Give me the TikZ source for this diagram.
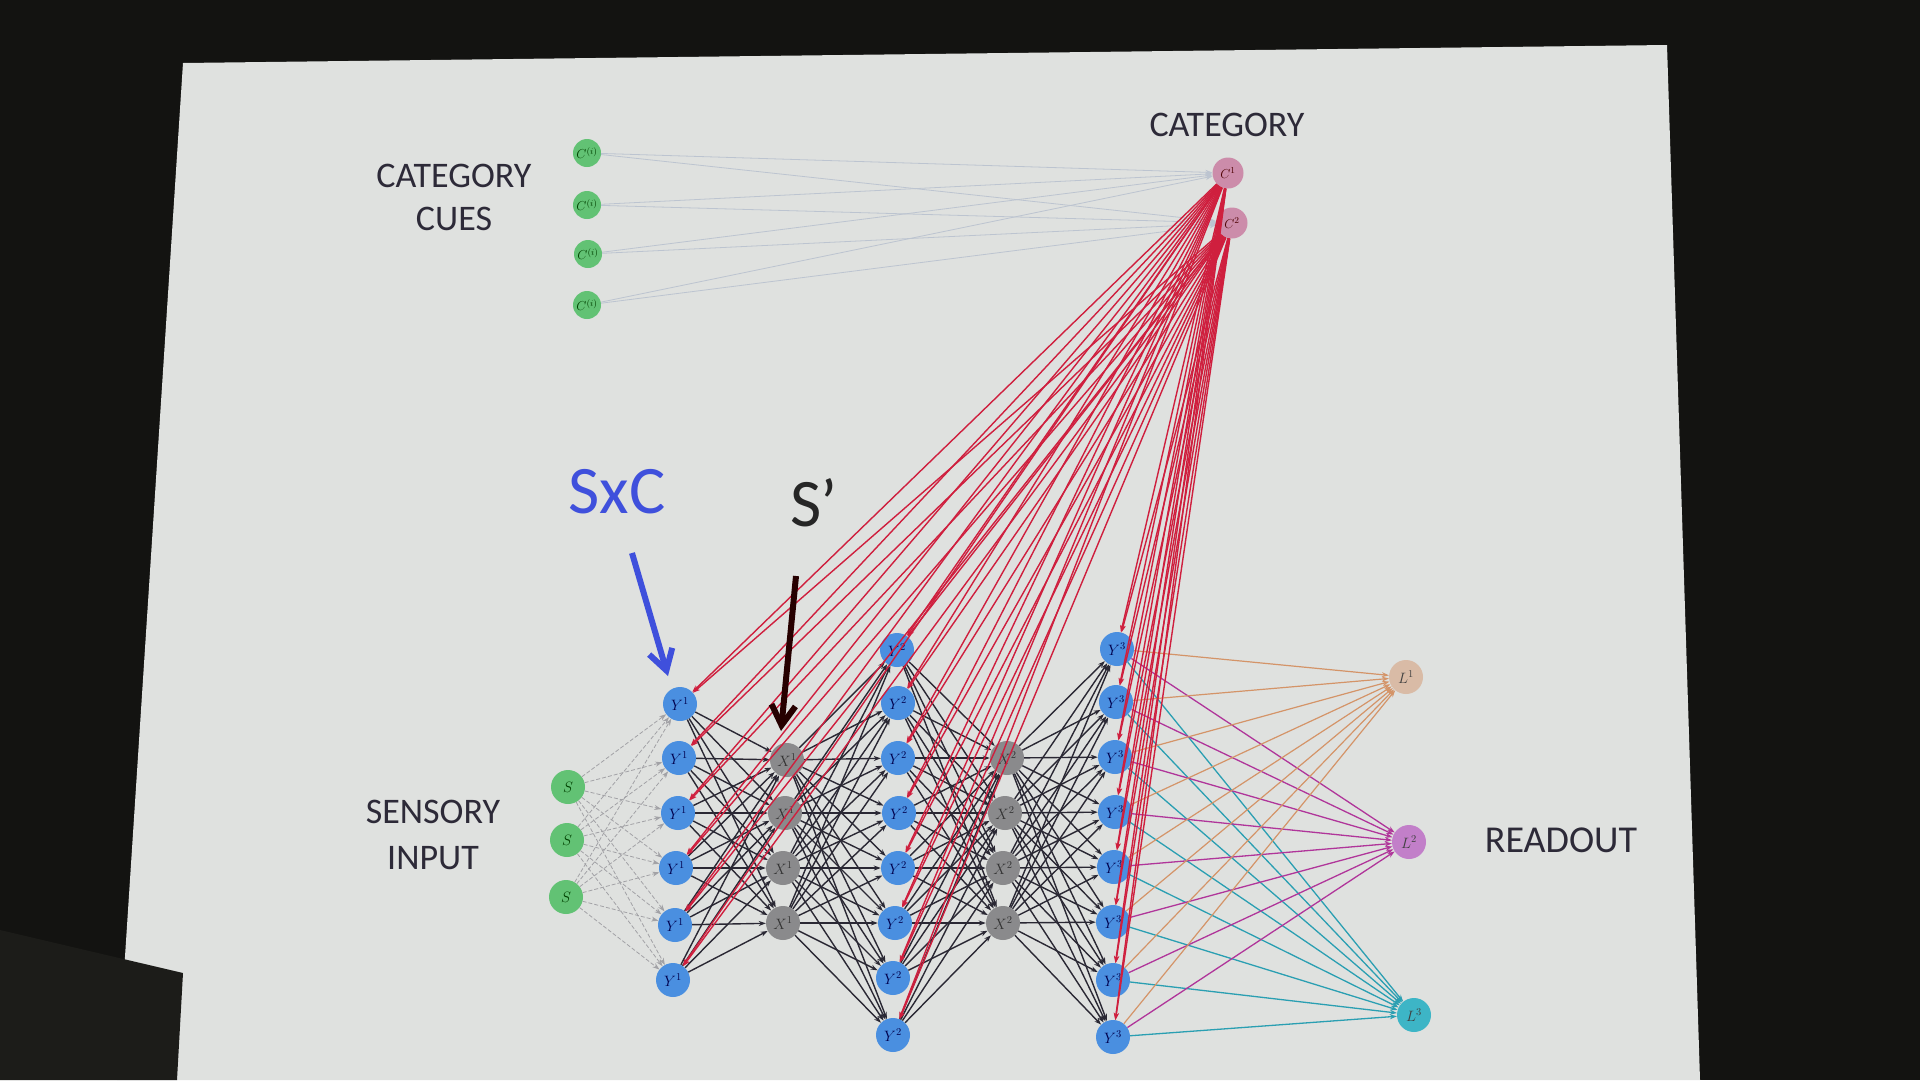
\RequirePackage{fix-cm}
\documentclass[tikz,border=0pt]{standalone}
\usepackage{fontspec}
\setmainfont{Carlito}
\usetikzlibrary{arrows.meta}
\definecolor{bgdark}{HTML}{131311}
\definecolor{objdark}{HTML}{1C1C19}
\definecolor{slidebg}{HTML}{DFE1DF}
\definecolor{txt}{HTML}{2D2A38}
\definecolor{ngreen}{HTML}{62C274}
\definecolor{nblue}{HTML}{4A8FE0}
\definecolor{ngray}{HTML}{8A8A8C}
\definecolor{npink}{HTML}{CC8CAA}
\definecolor{nl1}{HTML}{D9BBA6}
\definecolor{nl2}{HTML}{C27FC9}
\definecolor{nl3}{HTML}{3DB5C6}
\definecolor{redc}{HTML}{CF1F3E}
\definecolor{blackc}{HTML}{2A2834}
\definecolor{cuec}{HTML}{BCC4D0}
\definecolor{sc}{HTML}{A2A2A6}
\definecolor{l1c}{HTML}{D49468}
\definecolor{l2c}{HTML}{B0359A}
\definecolor{l3c}{HTML}{2A9FB2}
\definecolor{sxcblue}{HTML}{3F50DC}
\begin{document}
\begin{tikzpicture}[x=1pt,y=-1pt,
  neuron/.style={circle,inner sep=0pt,minimum size=34pt,font=\fontsize{15}{15}\selectfont},
  smallneuron/.style={circle,inner sep=0pt,minimum size=28pt,font=\fontsize{13}{13}\selectfont},
  greenn/.style={neuron,fill=ngreen,text=black!75!green},
  cuen/.style={smallneuron,fill=ngreen,text=black!75!green},
  bluen/.style={neuron,fill=nblue,text=blue!30!black},
  grayn/.style={neuron,fill=ngray,text=black!80},
  pinkn/.style={smallneuron,minimum size=31pt,fill=npink,text=black!70!red},
  lonen/.style={neuron,fill=nl1,text=black!75},
  ltwon/.style={neuron,fill=nl2,text=black!75},
  lthreen/.style={neuron,fill=nl3,text=black!75},
  tip/.style={-{Stealth[length=7pt,width=5pt]}},
  cueedge/.style={tip,draw=cuec,line width=0.8pt},
  sedge/.style={tip,draw=sc,line width=0.8pt,dash pattern=on 4pt off 2pt},
  bedge/.style={tip,draw=blackc,line width=1.4pt},
  redge/.style={tip,draw=redc,line width=1.4pt},
  lone/.style={tip,draw=l1c,line width=1.2pt},
  ltwo/.style={tip,draw=l2c,line width=1.3pt},
  lthree/.style={tip,draw=l3c,line width=1.3pt},
  lbl/.style={text=txt,font=\fontsize{36}{43}\selectfont,align=center},
  bigarrow/.style={line width=6pt,-{Straight Barb[length=20pt,width=24pt]}}
]
\useasboundingbox (0,0) rectangle (1920,1080);
\fill[bgdark] (0,0) rectangle (1920,1080);
\fill[slidebg] (183,63) -- (1667,45) -- (1700,1080) -- (117,1080) -- cycle;
\fill[objdark] (0,930) -- (183,973) -- (177,1080) -- (0,1080) -- cycle;

% labels
\node[lbl] (tcat) at (1227,125) {CATEGORY};
\node[lbl] (tcues) at (454,197) {CATEGORY\\CUES};
\node[lbl,font=\fontsize{36}{46}\selectfont] (tsens) at (433,835) {SENSORY\\INPUT};
\node[lbl,font=\fontsize{38}{46}\selectfont] (tread) at (1561,840) {READOUT};
\node[text=sxcblue,font=\fontsize{68}{68}\selectfont] (tsxc) at (617,492) {SxC};
\node[text=black!85,font=\fontsize{68}{68}\selectfont] (tsp) at (814,503) {S’};

% nodes
\foreach \i/\x/\y in {1/587/153,2/587/205,3/588/254,4/587/305}
  \node[cuen] (q\i) at (\x,\y) {$C^{(i)}$};
\node[pinkn] (c1) at (1228,173) {$C^1$};
\node[pinkn] (c2) at (1232,223) {$C^2$};
\foreach \i/\x/\y in {1/568/787,2/567/840,3/566/897}
  \node[greenn] (s\i) at (\x,\y) {$S$};
\foreach \i/\x/\y in {1/680/704,2/679/758,3/678/813,4/676/868,5/675/925,6/673/980}
  \node[bluen] (ya\i) at (\x,\y) {$Y^1$};
\foreach \i/\x/\y in {1/787/760,2/785/813,3/783/868,4/783/923}
  \node[grayn] (xa\i) at (\x,\y) {$X^1$};
\foreach \i/\x/\y in {1/897/650,2/898/703,3/898/758,4/899/813,5/898/868,6/895/923,7/893/978,8/893/1035}
  \node[bluen] (yb\i) at (\x,\y) {$Y^2$};
\foreach \i/\x/\y in {1/1007/758,2/1005/813,3/1003/868,4/1003/923}
  \node[grayn] (xb\i) at (\x,\y) {$X^2$};
\foreach \i/\x/\y in {1/1117/649,2/1116/702,3/1115/757,4/1115/812,5/1114/867,6/1113/922,7/1113/980,8/1113/1037}
  \node[bluen] (yc\i) at (\x,\y) {$Y^3$};
\node[lonen] (l1) at (1406,677) {$L^1$};
\node[ltwon] (l2) at (1409,842) {$L^2$};
\node[lthreen] (l3) at (1414,1015) {$L^3$};

% edges
\foreach \i in {1,...,4} \foreach \j in {1,2} \draw[cueedge] (q\i) -- (c\j);
\foreach \i in {1,...,3} \foreach \j in {1,...,6} \draw[sedge] (s\i) -- (ya\j);
\foreach \i in {1,...,6} \foreach \j in {1,...,4} \draw[bedge] (ya\i) -- (xa\j);
\foreach \i in {1,...,4} \foreach \j in {1,...,8} \draw[bedge] (xa\i) -- (yb\j);
\foreach \i in {1,...,8} \foreach \j in {1,...,4} \draw[bedge] (yb\i) -- (xb\j);
\foreach \i in {1,...,4} \foreach \j in {1,...,8} \draw[bedge] (xb\i) -- (yc\j);
\foreach \i in {1,...,8} {
  \draw[lone] (yc\i) -- (l1);
  \draw[ltwo] (yc\i) -- (l2);
  \draw[lthree] (yc\i) -- (l3);
}
\foreach \c in {c1,c2} {
  \foreach \j in {1,...,6} \draw[redge] (\c) -- (ya\j);
  \foreach \j in {1,...,8} \draw[redge] (\c) -- (yb\j);
  \foreach \j in {1,...,8} \draw[redge] (\c) -- (yc\j);
}

% pointer arrows
\coordinate (sxcstart) at (632,553);
\coordinate (sxcend) at (668,676);
\coordinate (spstart) at (796,576);
\coordinate (spend) at (781,731);
\draw[bigarrow,draw=sxcblue] (sxcstart) -- (sxcend);
\draw[bigarrow,draw=black!85!red] (spstart) -- (spend);
\end{tikzpicture}
\end{document}
